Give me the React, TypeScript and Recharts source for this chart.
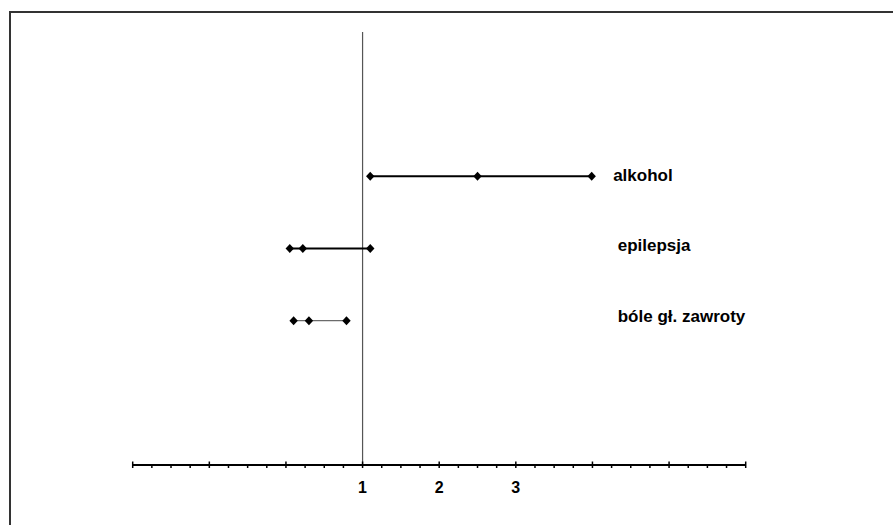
import React from 'react';
import { ScatterChart, Scatter, XAxis, YAxis, ReferenceLine } from 'recharts';

// Forest-plot rows (odds ratio with confidence interval)
const rowNames = ['alkohol', 'epilepsja', 'bóle gł. zawroty'];
const rowY = [4, 3, 2];
const lowerCI = [1.1, 0.05, 0.1];
const estimate = [2.5, 0.22, 0.3];
const upperCI = [3.99, 1.1, 0.79];
// label anchors in data units
const labelX = [4.27, 4.33, 4.33];
const labelY = [3.93, 2.97, 1.98];

const xTicks = [
  -2, -1.75, -1.5, -1.25, -1, -0.75, -0.5, -0.25, 0, 0.25, 0.5, 0.75, 1, 1.25, 1.5, 1.75,
  2, 2.25, 2.5, 2.75, 3, 3.25, 3.5, 3.75, 4, 4.25, 4.5, 4.75, 5, 5.25, 5.5, 5.75, 6,
];
const xTickLabels = [1, 2, 3];

const rowStroke = ['#000', '#000', '#6b6b6b'];
const rowWidth = [2, 2, 1.3];

const seriesData = rowNames.map((name, i) => [
  { x: lowerCI[i], y: rowY[i], name },
  { x: estimate[i], y: rowY[i], name },
  { x: upperCI[i], y: rowY[i], name },
]);

const labelData = rowNames.map((name, i) => ({ x: labelX[i], y: labelY[i], name }));

const FONT = '"Liberation Sans", Arial, sans-serif';

const Diamond = (props: any) => {
  const { cx, cy } = props;
  if (cx == null || cy == null) return null;
  const w = 4.2;
  const h = 4.5;
  return (
    <polygon
      points={`${cx - w},${cy} ${cx},${cy - h} ${cx + w},${cy} ${cx},${cy + h}`}
      fill="#000"
    />
  );
};

const LabelShape = (props: any) => {
  const { cx, cy, payload } = props;
  if (cx == null || cy == null) return null;
  return (
    <text x={cx} y={cy} textAnchor="start" fontFamily={FONT} fontWeight="bold" fontSize={17} fill="#000">
      {payload.name}
    </text>
  );
};

const AxisTick = (props: any) => {
  const { x, y, payload } = props;
  const v = payload.value;
  const major = Number.isInteger(v);
  return (
    <g>
      <line x1={x} x2={x} y1={major ? y - 3.5 : y} y2={y + 3} stroke="#000" strokeWidth={1.5} />
      {xTickLabels.includes(v) && (
        <text x={x} y={y + 28} textAnchor="middle" fontFamily={FONT} fontWeight="bold" fontSize={16} fill="#000">
          {v}
        </text>
      )}
    </g>
  );
};

export default function App() {
  return (
    <div
      style={{
        position: 'fixed',
        left: 0,
        top: 0,
        width: 893,
        height: 525,
        overflow: 'hidden',
        background: '#fff',
      }}
    >
      <div
        style={{
          position: 'absolute',
          left: 9,
          top: 11,
          width: 1000,
          height: 1000,
          borderTop: '2px solid #333',
          borderLeft: '2px solid #333',
        }}
      />
      <div style={{ position: 'absolute', left: 0, top: 0 }}>
        <ScatterChart
          width={893}
          height={525}
          margin={{ top: 32, right: 147.3, bottom: 20, left: 132.7 }}
        >
          <XAxis
            type="number"
            dataKey="x"
            domain={[-2, 6]}
            ticks={xTicks}
            interval={0}
            allowDecimals
            height={40}
            tickSize={0}
            tickMargin={0}
            tickLine={false}
            axisLine={{ stroke: '#000', strokeWidth: 2 }}
            tick={<AxisTick />}
          />
          <YAxis type="number" dataKey="y" domain={[0, 6]} hide width={0} />
          <ReferenceLine x={1} stroke="#555" strokeWidth={1.2} ifOverflow="extendDomain" />
          {seriesData.map((d, i) => (
            <Scatter
              key={rowNames[i]}
              name={rowNames[i]}
              data={d}
              line={{ stroke: rowStroke[i], strokeWidth: rowWidth[i] }}
              lineType="joint"
              shape={<Diamond />}
              isAnimationActive={false}
            />
          ))}
          <Scatter
            name="labels"
            data={labelData}
            shape={<LabelShape />}
            isAnimationActive={false}
          />
        </ScatterChart>
      </div>
    </div>
  );
}
